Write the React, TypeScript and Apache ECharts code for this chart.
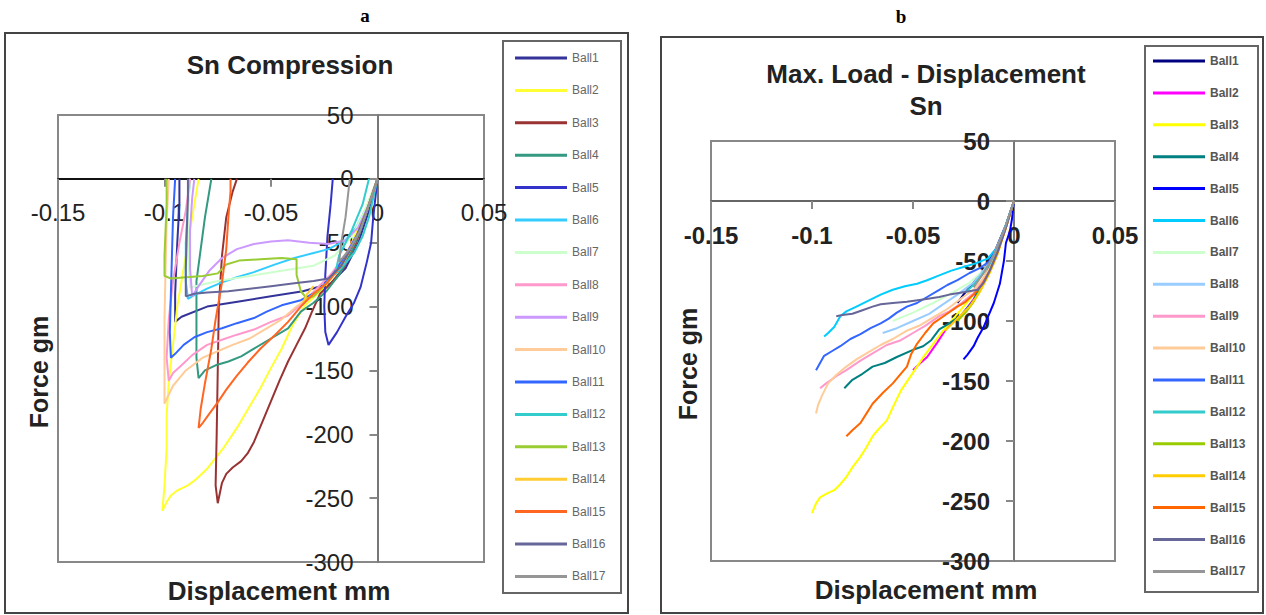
import React, { useEffect, useRef } from "react";
import * as echarts from "echarts";

// ---------- shared ----------
const ballNames = [
  "Ball1", "Ball2", "Ball3", "Ball4", "Ball5", "Ball6", "Ball7", "Ball8", "Ball9",
  "Ball10", "Ball11", "Ball12", "Ball13", "Ball14", "Ball15", "Ball16", "Ball17",
];
const xTicks = { min: -0.15, max: 0.05, interval: 0.05 };
const yTicks = { min: -300, max: 50, interval: 50 };

// ---------- panel a : Sn Compression (loading + unloading) ----------
const aColors = [
  "#333399", "#FFFF33", "#993333", "#339980", "#3333CC", "#33CCFF", "#CCFFCC", "#FF99CC", "#CC99FF",
  "#FFCC99", "#3366FF", "#33CCCC", "#99CC33", "#FFCC33", "#FF6622", "#666699", "#969696",
];
const aBall1 = [[0,0],[-0.004,-25],[-0.009,-50],[-0.015,-70],[-0.022,-82],[-0.035,-88],[-0.05,-92],[-0.065,-96],[-0.08,-100],[-0.092,-108],[-0.095,-112],[-0.095,-90],[-0.094,-50],[-0.093,-20],[-0.093,0]];
const aBall2 = [[0,0],[-0.006,-25],[-0.012,-50],[-0.018,-70],[-0.025,-85],[-0.034,-99],[-0.04,-115],[-0.045,-133],[-0.05,-148],[-0.055,-164],[-0.06,-178],[-0.066,-195],[-0.072,-210],[-0.08,-227],[-0.085,-235],[-0.089,-240],[-0.094,-244],[-0.097,-248],[-0.099,-253],[-0.101,-260],[-0.1,-240],[-0.099,-211],[-0.099,-185],[-0.098,-159],[-0.096,-130],[-0.094,-100],[-0.092,-80],[-0.089,-50],[-0.086,-20],[-0.084,0]];
const aBall3 = [[0,0],[-0.005,-25],[-0.01,-50],[-0.016,-70],[-0.022,-82],[-0.027,-90],[-0.031,-105],[-0.034,-117],[-0.038,-130],[-0.042,-143],[-0.046,-158],[-0.05,-174],[-0.054,-190],[-0.058,-206],[-0.061,-215],[-0.064,-221],[-0.068,-226],[-0.071,-231],[-0.073,-238],[-0.074,-246],[-0.075,-254],[-0.076,-240],[-0.0755,-200],[-0.075,-150],[-0.0745,-100],[-0.073,-60],[-0.071,-30],[-0.068,-10],[-0.066,0]];
const aBall4 = [[0,0],[-0.004,-20],[-0.008,-40],[-0.013,-60],[-0.018,-75],[-0.024,-88],[-0.03,-97],[-0.036,-104],[-0.042,-117],[-0.05,-125],[-0.058,-133],[-0.064,-139],[-0.07,-143],[-0.076,-146],[-0.081,-150],[-0.084,-156],[-0.085,-140],[-0.085,-110],[-0.085,-80],[-0.083,-55],[-0.081,-30],[-0.079,-10],[-0.078,0]];
const aBall5 = [[0,0],[-0.001,-15],[-0.002,-30],[-0.003,-50],[-0.005,-65],[-0.008,-85],[-0.011,-97],[-0.015,-108],[-0.019,-120],[-0.023,-130],[-0.0245,-120],[-0.025,-100],[-0.0245,-75],[-0.0235,-45],[-0.022,-20],[-0.021,0]];
const aBall6 = [[0,0],[-0.005,-22],[-0.01,-38],[-0.015,-48],[-0.023,-55],[-0.03,-58],[-0.039,-62],[-0.048,-67],[-0.058,-73],[-0.066,-77],[-0.073,-81],[-0.08,-86],[-0.086,-91],[-0.089,-94],[-0.09,-80],[-0.09,-50],[-0.089,-20],[-0.088,0]];
const aBall7 = [[0,0],[-0.006,-25],[-0.012,-45],[-0.02,-60],[-0.03,-68],[-0.045,-72],[-0.06,-76],[-0.075,-80],[-0.088,-85],[-0.089,-60],[-0.089,-30],[-0.088,0]];
const aBall8 = [[0,0],[-0.005,-25],[-0.01,-45],[-0.016,-62],[-0.022,-75],[-0.028,-85],[-0.035,-97],[-0.042,-107],[-0.05,-112],[-0.058,-118],[-0.066,-122],[-0.073,-126],[-0.08,-130],[-0.087,-138],[-0.092,-146],[-0.096,-152],[-0.098,-158],[-0.099,-140],[-0.098,-110],[-0.096,-80],[-0.093,-50],[-0.09,-25],[-0.088,0]];
const aBall9 = [[0,0],[-0.004,-20],[-0.009,-38],[-0.015,-48],[-0.023,-51],[-0.032,-50],[-0.042,-48],[-0.05,-49],[-0.058,-51],[-0.066,-55],[-0.073,-62],[-0.079,-72],[-0.084,-84],[-0.087,-92],[-0.088,-70],[-0.088,-40],[-0.087,-15],[-0.086,0]];
const aBall10 = [[0,0],[-0.005,-25],[-0.011,-50],[-0.017,-68],[-0.024,-82],[-0.03,-90],[-0.038,-100],[-0.045,-110],[-0.053,-118],[-0.06,-125],[-0.068,-130],[-0.075,-135],[-0.082,-140],[-0.09,-150],[-0.096,-162],[-0.1,-176],[-0.1,-150],[-0.1,-110],[-0.0995,-70],[-0.099,-35],[-0.098,0]];
const aBall11 = [[0,0],[-0.004,-20],[-0.009,-42],[-0.015,-60],[-0.021,-75],[-0.028,-88],[-0.036,-95],[-0.045,-99],[-0.052,-104],[-0.058,-109],[-0.066,-113],[-0.073,-117],[-0.08,-120],[-0.086,-124],[-0.091,-130],[-0.095,-137],[-0.097,-140],[-0.0975,-120],[-0.097,-90],[-0.0965,-60],[-0.096,-30],[-0.095,0]];
const aBall12 = [[0,0],[-0.002,-15],[-0.004,-30],[-0.007,-45],[-0.011,-58],[-0.016,-68],[-0.02,-75],[-0.018,-60],[-0.012,-40],[-0.007,-20],[-0.004,0]];
const aBall13 = [[0,0],[-0.005,-25],[-0.011,-50],[-0.017,-68],[-0.024,-82],[-0.03,-92],[-0.033,-94],[-0.036,-88],[-0.038,-75],[-0.038,-63],[-0.045,-62],[-0.055,-63],[-0.065,-64],[-0.071,-67],[-0.075,-74],[-0.082,-76],[-0.09,-77],[-0.097,-78],[-0.1,-76],[-0.1,-60],[-0.0995,-40],[-0.099,-20],[-0.099,0]];
const aBall14 = [[0,0],[-0.005,-25],[-0.011,-50],[-0.017,-68],[-0.024,-82],[-0.03,-90],[-0.035,-97],[-0.033,-90],[-0.03,-84]];
const aBall15 = [[0,0],[-0.005,-25],[-0.011,-50],[-0.017,-68],[-0.024,-82],[-0.03,-90],[-0.036,-100],[-0.042,-112],[-0.048,-122],[-0.055,-133],[-0.061,-144],[-0.066,-154],[-0.071,-165],[-0.075,-175],[-0.079,-184],[-0.082,-191],[-0.084,-195],[-0.083,-180],[-0.081,-160],[-0.078,-133],[-0.076,-110],[-0.073,-81],[-0.071,-55],[-0.07,-30],[-0.069,-10],[-0.069,0]];
const aBall16 = [[0,0],[-0.005,-25],[-0.011,-50],[-0.017,-68],[-0.023,-78],[-0.03,-80],[-0.04,-82],[-0.05,-84],[-0.06,-86],[-0.07,-88],[-0.08,-89],[-0.086,-90],[-0.09,-92],[-0.09,-70],[-0.0895,-40],[-0.089,-15],[-0.089,0]];
const aBall17 = [[0,0],[-0.004,-20],[-0.008,-40],[-0.013,-55],[-0.018,-65],[-0.017,-50],[-0.015,-30],[-0.013,0]];
const aData = [aBall1, aBall2, aBall3, aBall4, aBall5, aBall6, aBall7, aBall8, aBall9, aBall10, aBall11, aBall12, aBall13, aBall14, aBall15, aBall16, aBall17];

// ---------- panel b : Max. Load - Displacement Sn (loading only) ----------
const bColors = [
  "#000080", "#FF00FF", "#FFFF00", "#008080", "#0000FF", "#00CCFF", "#CCFFCC", "#99CCFF", "#FF99CC",
  "#FFCC99", "#3366FF", "#33CCCC", "#99CC00", "#FFCC00", "#FF6600", "#666699", "#969696",
];
const bBall1 = [[0,0],[-0.004,-20],[-0.009,-40],[-0.014,-55],[-0.02,-68],[-0.025,-78],[-0.028,-85]];
const bBall2 = [[0,0],[-0.004,-20],[-0.008,-40],[-0.012,-55],[-0.016,-68],[-0.02,-82],[-0.026,-95],[-0.033,-105],[-0.038,-118],[-0.043,-130],[-0.047,-136],[-0.05,-141]];
const bBall3 = [[0,0],[-0.004,-20],[-0.008,-40],[-0.012,-55],[-0.017,-70],[-0.022,-82],[-0.027,-92],[-0.032,-102],[-0.036,-110],[-0.04,-119],[-0.044,-128],[-0.048,-138],[-0.052,-148],[-0.056,-158],[-0.06,-172],[-0.063,-183],[-0.067,-190],[-0.07,-196],[-0.073,-205],[-0.076,-213],[-0.08,-222],[-0.083,-230],[-0.086,-236],[-0.089,-241],[-0.093,-244],[-0.096,-247],[-0.098,-252],[-0.1,-260]];
const bBall4 = [[0,0],[-0.004,-20],[-0.008,-40],[-0.012,-55],[-0.016,-68],[-0.02,-83],[-0.026,-95],[-0.032,-102],[-0.037,-107],[-0.041,-116],[-0.045,-121],[-0.05,-124],[-0.058,-130],[-0.064,-135],[-0.07,-138],[-0.075,-144],[-0.08,-149],[-0.084,-156]];
const bBall5 = [[0,0],[-0.001,-15],[-0.002,-25],[-0.004,-35],[-0.005,-50],[-0.007,-69],[-0.01,-85],[-0.013,-97],[-0.015,-105],[-0.018,-114],[-0.02,-121],[-0.023,-128],[-0.025,-132]];
const bBall6 = [[0,0],[-0.003,-15],[-0.006,-30],[-0.009,-40],[-0.013,-48],[-0.019,-52],[-0.025,-55],[-0.031,-58],[-0.037,-62],[-0.043,-66],[-0.048,-69],[-0.054,-71],[-0.06,-74],[-0.066,-78],[-0.072,-83],[-0.078,-88],[-0.083,-92],[-0.086,-96],[-0.089,-105],[-0.092,-110],[-0.094,-113]];
const bBall7 = [[0,0],[-0.005,-25],[-0.01,-45],[-0.015,-58],[-0.022,-68],[-0.03,-76],[-0.04,-85],[-0.05,-93],[-0.06,-100]];
const bBall8 = [[0,0],[-0.005,-25],[-0.01,-45],[-0.015,-58],[-0.02,-68],[-0.028,-78],[-0.035,-86],[-0.042,-94],[-0.05,-100],[-0.058,-106],[-0.065,-110]];
const bBall9 = [[0,0],[-0.004,-22],[-0.008,-42],[-0.012,-56],[-0.016,-68],[-0.02,-77],[-0.026,-85],[-0.032,-92],[-0.037,-96],[-0.044,-104],[-0.05,-110],[-0.056,-116],[-0.063,-120],[-0.07,-127],[-0.076,-133],[-0.083,-141],[-0.088,-146],[-0.093,-152],[-0.096,-156]];
const bBall10 = [[0,0],[-0.004,-22],[-0.008,-42],[-0.012,-56],[-0.016,-66],[-0.02,-74],[-0.026,-81],[-0.033,-90],[-0.04,-97],[-0.047,-104],[-0.053,-108],[-0.06,-115],[-0.066,-120],[-0.072,-126],[-0.078,-132],[-0.083,-138],[-0.088,-145],[-0.092,-152],[-0.095,-162],[-0.097,-170],[-0.098,-177]];
const bBall11 = [[0,0],[-0.004,-20],[-0.008,-38],[-0.012,-50],[-0.017,-56],[-0.022,-60],[-0.028,-66],[-0.033,-70],[-0.037,-74],[-0.043,-80],[-0.048,-85],[-0.053,-88],[-0.058,-93],[-0.062,-98],[-0.066,-102],[-0.071,-106],[-0.076,-111],[-0.081,-115],[-0.086,-121],[-0.09,-125],[-0.094,-129],[-0.096,-135],[-0.098,-141]];
const bBall12 = [[0,0],[-0.004,-20],[-0.008,-38],[-0.012,-52],[-0.016,-62],[-0.02,-70],[-0.024,-76]];
const bBall13 = [[0,0],[-0.004,-22],[-0.008,-42],[-0.012,-58],[-0.016,-72],[-0.02,-84],[-0.024,-93],[-0.028,-100]];
const bBall14 = [[0,0],[-0.004,-22],[-0.008,-44],[-0.012,-60],[-0.017,-76],[-0.022,-88],[-0.027,-96],[-0.031,-103],[-0.034,-108]];
const bBall15 = [[0,0],[-0.004,-22],[-0.008,-42],[-0.012,-58],[-0.016,-70],[-0.02,-78],[-0.024,-84],[-0.028,-88],[-0.034,-95],[-0.04,-102],[-0.044,-110],[-0.048,-119],[-0.051,-128],[-0.053,-138],[-0.057,-146],[-0.06,-152],[-0.065,-160],[-0.07,-169],[-0.073,-177],[-0.076,-185],[-0.08,-191],[-0.083,-196]];
const bBall16 = [[0,0],[-0.004,-22],[-0.008,-42],[-0.012,-58],[-0.015,-68],[-0.018,-74],[-0.025,-76],[-0.032,-78],[-0.037,-80],[-0.045,-82],[-0.053,-84],[-0.06,-85],[-0.066,-86],[-0.07,-88],[-0.075,-91],[-0.08,-94],[-0.085,-95],[-0.088,-96]];
const bBall17 = [[0,0],[-0.005,-25],[-0.01,-45],[-0.015,-60],[-0.02,-72]];
const bData = [bBall1, bBall2, bBall3, bBall4, bBall5, bBall6, bBall7, bBall8, bBall9, bBall10, bBall11, bBall12, bBall13, bBall14, bBall15, bBall16, bBall17];

const FONT = '"Liberation Sans", Arial, Helvetica, sans-serif';

// grid boxes (pixels) for the two panels
const gridA = { left: 58, top: 115, width: 426, height: 447 };
const gridB = { left: 711, top: 141, width: 404, height: 420 };

function zeroOffsets(g: { left: number; top: number; width: number; height: number }) {
  const zx = g.left + ((0 - xTicks.min) / (xTicks.max - xTicks.min)) * g.width;
  const zy = g.top + ((yTicks.max - 0) / (yTicks.max - yTicks.min)) * g.height;
  return { xOff: -(g.top + g.height - zy), yOff: -(zx - g.left) };
}

function makeAxes(gridIndex: number, bold: boolean, xLineColor: string, g: any) {
  const off = zeroOffsets(g);
  const label = { fontSize: 24, fontFamily: FONT, color: "#222", fontWeight: bold ? "bold" : "normal" };
  const x = {
    type: "value", gridIndex, min: xTicks.min, max: xTicks.max, interval: xTicks.interval,
    position: "bottom", offset: off.xOff,
    splitLine: { show: false },
    axisLine: { onZero: false, lineStyle: { color: xLineColor, width: 2 } },
    axisTick: { show: true, length: 8, lineStyle: { color: "#888", width: 2 } },
    axisLabel: { ...label, margin: 22 },
  };
  const y = {
    type: "value", gridIndex, min: yTicks.min, max: yTicks.max, interval: yTicks.interval,
    position: "left", offset: off.yOff,
    splitLine: { show: false },
    axisLine: { onZero: false, lineStyle: { color: "#777", width: 2 } },
    axisTick: { show: true, length: 8, lineStyle: { color: "#888", width: 2 } },
    axisLabel: { ...label, margin: 24 },
  };
  return { x, y };
}

export default function App() {
  const ref = useRef<HTMLDivElement>(null);
  useEffect(() => {
    if (!ref.current) return;
    const chart = echarts.init(ref.current, undefined, { renderer: "svg" });
    const ax0 = makeAxes(0, false, "#111", gridA);
    const ax1 = makeAxes(1, true, "#666", gridB);
    const series: any[] = [];
    ballNames.forEach((n, i) => {
      series.push({
        type: "line", name: "a-" + n, xAxisIndex: 0, yAxisIndex: 0, data: aData[i],
        symbol: "none", showSymbol: false, clip: true,
        lineStyle: { width: 2, color: aColors[i] }, itemStyle: { color: aColors[i] },
      });
    });
    ballNames.forEach((n, i) => {
      series.push({
        type: "line", name: "b-" + n, xAxisIndex: 1, yAxisIndex: 1, data: bData[i],
        symbol: "none", showSymbol: false, clip: true,
        lineStyle: { width: 2, color: bColors[i] }, itemStyle: { color: bColors[i] },
      });
    });
    const legendCommon = {
      orient: "vertical", itemWidth: 52, itemHeight: 3, icon: "rect", padding: 0,
      selectedMode: false, formatter: (name: string) => name.slice(2),
    };
    const text = (x: number, y: number, t: string, size: number, extra: any = {}) => ({
      type: "text", x, y, silent: true,
      style: { text: t, fontSize: size, fontWeight: "bold", fontFamily: FONT, fill: "#222", textAlign: "center", textVerticalAlign: "middle", ...extra },
    });
    chart.setOption({
      animation: false,
      backgroundColor: "#fff",
      grid: [
        { ...gridA, show: true, borderColor: "#888", borderWidth: 2, backgroundColor: "transparent" },
        { ...gridB, show: true, borderColor: "#888", borderWidth: 2, backgroundColor: "transparent" },
      ],
      xAxis: [ax0.x, ax1.x],
      yAxis: [ax0.y, ax1.y],
      legend: [
        { ...legendCommon, left: 515, top: 52, itemGap: 20.4, data: ballNames.map((n) => "a-" + n),
          textStyle: { fontSize: 12, lineHeight: 12, color: "#666", fontFamily: FONT } },
        { ...legendCommon, left: 1153, top: 55, itemGap: 19.9, data: ballNames.map((n) => "b-" + n),
          textStyle: { fontSize: 12, lineHeight: 12, color: "#555", fontWeight: "bold", fontFamily: FONT } },
      ],
      series,
      graphic: [
        { type: "rect", silent: true, shape: { x: 5, y: 33, width: 623, height: 580 }, style: { fill: "rgba(0,0,0,0)", stroke: "#444", lineWidth: 2 } },
        { type: "rect", silent: true, shape: { x: 661, y: 37, width: 602, height: 576 }, style: { fill: "rgba(0,0,0,0)", stroke: "#444", lineWidth: 2 } },
        { type: "rect", silent: true, shape: { x: 503, y: 41, width: 118, height: 552 }, style: { fill: "rgba(0,0,0,0)", stroke: "#666", lineWidth: 2 } },
        { type: "rect", silent: true, shape: { x: 1145, y: 46, width: 113, height: 546 }, style: { fill: "rgba(0,0,0,0)", stroke: "#666", lineWidth: 2 } },
        text(365, 15, "a", 19, { fontFamily: '"Liberation Serif", "Times New Roman", serif', fill: "#000" }),
        text(901, 16, "b", 19, { fontFamily: '"Liberation Serif", "Times New Roman", serif', fill: "#000" }),
        text(290, 65, "Sn Compression", 26),
        text(926, 74, "Max. Load - Displacement", 26),
        text(926, 106, "Sn", 26),
        text(279, 591, "Displacement mm", 26),
        text(926, 590, "Displacement mm", 26),
        { ...text(39, 372, "Force gm", 25), rotation: Math.PI / 2 },
        { ...text(688, 364, "Force gm", 25), rotation: Math.PI / 2 },
      ],
    });
    return () => chart.dispose();
  }, []);
  return <div ref={ref} style={{ position: "fixed", left: 0, top: 0, width: 1266, height: 615 }} />;
}
